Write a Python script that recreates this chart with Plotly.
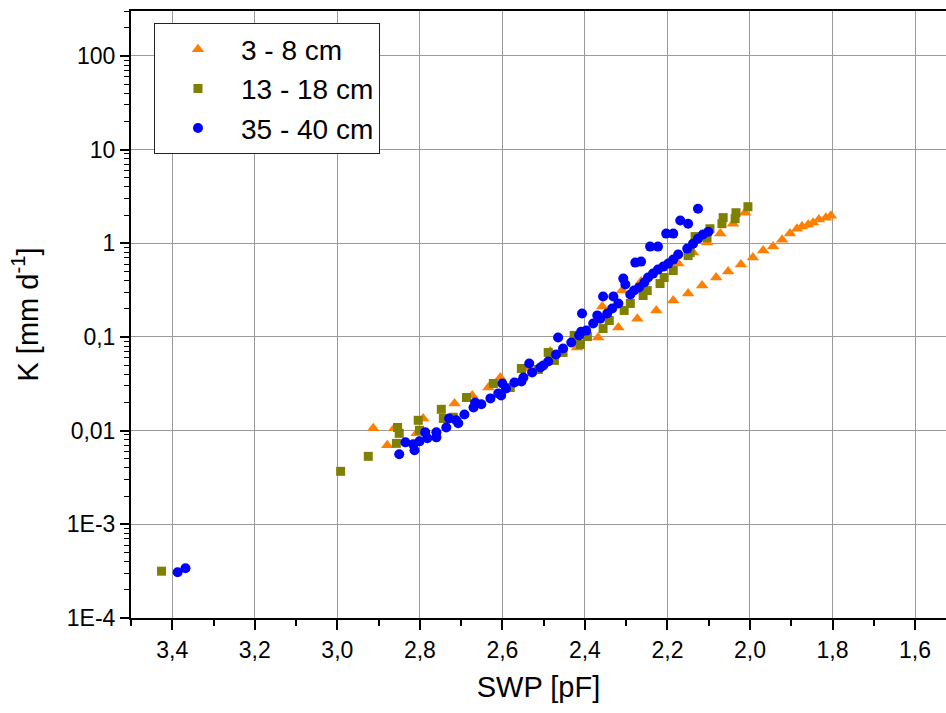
import plotly.graph_objects as go

# ---- data ----
swp_3_8 = [2.913, 2.862, 2.879, 2.808, 2.792, 2.716, 2.673, 2.634, 2.605, 2.540,
           2.484, 2.419, 2.368, 2.358, 2.319, 2.310, 2.273, 2.264, 2.227, 2.186,
           2.174, 2.150, 2.138, 2.116, 2.104, 2.082, 2.072, 2.053, 2.041, 2.022,
           2.012, 1.993, 1.968, 1.944, 1.922, 1.903, 1.886, 1.874, 1.859, 1.847,
           1.833, 1.816, 1.804]
k_3_8 = [0.0106, 0.0106, 0.00697, 0.00936, 0.0135, 0.0195, 0.0238, 0.0289, 0.0370, 0.0461,
         0.0700, 0.0773, 0.0988, 0.211, 0.126, 0.313, 0.157, 0.390, 0.192, 0.245,
         0.607, 0.291, 0.796, 0.354, 1.02, 0.431, 1.27, 0.499, 1.62, 0.593,
         2.12, 0.704, 0.836, 0.922, 1.09, 1.27, 1.43, 1.51, 1.58, 1.66,
         1.79, 1.88, 1.97]

swp_13_18 = [3.426, 2.992, 2.925, 2.854, 2.850, 2.857, 2.804, 2.801, 2.748, 2.743,
             2.719, 2.687, 2.622, 2.581, 2.554, 2.513, 2.489, 2.474, 2.453, 2.426,
             2.411, 2.394, 2.356, 2.341, 2.305, 2.290, 2.259, 2.249, 2.218, 2.208,
             2.186, 2.150, 2.145, 2.133, 2.104, 2.097, 2.068, 2.065, 2.036, 2.034,
             2.005]
k_13_18 = [0.000316, 0.00368, 0.00532, 0.0108, 0.00936, 0.00732, 0.0129, 0.0101, 0.0169, 0.0135,
           0.0139, 0.0226, 0.0319, 0.0289, 0.0461, 0.0450, 0.0684, 0.0562, 0.0684, 0.104,
           0.0832, 0.101, 0.123, 0.150, 0.192, 0.228, 0.277, 0.313, 0.372, 0.431,
           0.512, 0.739, 0.796, 1.18, 1.15, 1.43, 1.62, 1.88, 1.83, 2.12,
           2.46]

swp_35_40 = [3.387, 3.368, 2.850, 2.835, 2.816, 2.813, 2.801, 2.787, 2.782, 2.760,
             2.760, 2.736, 2.729, 2.712, 2.707, 2.692, 2.670, 2.666, 2.651, 2.629,
             2.610, 2.603, 2.600, 2.591, 2.571, 2.554, 2.549, 2.535, 2.528, 2.508,
             2.501, 2.489, 2.470, 2.465, 2.453, 2.433, 2.414, 2.409, 2.407, 2.397,
             2.380, 2.370, 2.363, 2.356, 2.346, 2.334, 2.331, 2.319, 2.307, 2.302,
             2.290, 2.281, 2.278, 2.269, 2.264, 2.256, 2.247, 2.242, 2.235, 2.223,
             2.223, 2.210, 2.203, 2.198, 2.186, 2.186, 2.174, 2.169, 2.152, 2.150,
             2.138, 2.126, 2.126, 2.114, 2.101]
k_35_40 = [0.000308, 0.000340, 0.00559, 0.00750, 0.00714, 0.00617, 0.00769, 0.00959, 0.00828, 0.00959,
           0.00848, 0.0108, 0.0135, 0.0129, 0.0120, 0.0149, 0.0177, 0.0200, 0.0191, 0.0221,
           0.0250, 0.0238, 0.0319, 0.0282, 0.0327, 0.0335, 0.0370, 0.0522, 0.0418, 0.0473,
           0.0497, 0.0548, 0.0651, 0.0988, 0.0754, 0.0874, 0.104, 0.114, 0.178, 0.117,
           0.139, 0.170, 0.157, 0.270, 0.178, 0.201, 0.270, 0.228, 0.420, 0.363,
           0.284, 0.313, 0.622, 0.337, 0.638, 0.381, 0.431, 0.922, 0.475, 0.922,
           0.524, 0.564, 1.27, 0.607, 1.27, 0.670, 0.758, 1.75, 0.878, 1.62,
           0.992, 1.12, 2.34, 1.24, 1.33]

series_names = ["3 - 8 cm", "13 - 18 cm", "35 - 40 cm"]

x_tickvals = [3.4, 3.2, 3.0, 2.8, 2.6, 2.4, 2.2, 2.0, 1.8, 1.6]
x_ticktext = ["3,4", "3,2", "3,0", "2,8", "2,6", "2,4", "2,2", "2,0", "1,8", "1,6"]
y_tickvals = [1e-4, 1e-3, 1e-2, 1e-1, 1, 10, 100]
y_ticktext = ["1E-4", "1E-3", "0,01", "0,1", "1", "10", "100"]

# ---- figure ----
FONT = "Liberation Sans, Arial, sans-serif"
fig = go.Figure()
styles = [
    (swp_3_8, k_3_8, "triangle-up", "#FF8000", 11),
    (swp_13_18, k_13_18, "square", "#808000", 9),
    (swp_35_40, k_35_40, "circle", "#0000FF", 10),
]
for i, (xs, ys, sym, col, sz) in enumerate(styles):
    fig.add_trace(go.Scatter(
        x=xs, y=ys, mode="markers", name=series_names[i],
        marker=dict(symbol=sym, color=col, size=sz, line=dict(width=0)),
    ))

minor_y = [m * 10 ** e for e in range(-4, 3) for m in range(2, 10)]

fig.update_layout(
    width=946, height=713,
    margin=dict(l=131, r=0, t=11, b=95),
    paper_bgcolor="white", plot_bgcolor="white",
    font=dict(family=FONT, color="black"),
    showlegend=True,
    legend=dict(
        x=0.0282, y=0.8716, xanchor="left", yanchor="middle",
        bgcolor="white", bordercolor="#222222", borderwidth=1,
        font=dict(size=28, family=FONT, color="black"),
        itemwidth=76, traceorder="normal",
    ),
    xaxis=dict(
        range=[3.5, 1.525], autorange=False,
        tickmode="array", tickvals=x_tickvals, ticktext=x_ticktext,
        ticks="outside", ticklen=10, tickwidth=2, tickcolor="black",
        showline=True, linewidth=2, linecolor="black", mirror=True,
        showgrid=True, gridcolor="#9a9a9a", gridwidth=1,
        zeroline=False,
        tickfont=dict(size=23, family=FONT),
        minor=dict(tickmode="array", tickvals=[3.5, 3.3, 3.1, 2.9, 2.7, 2.5, 2.3, 2.1, 1.9, 1.7],
                   ticks="outside", ticklen=6, tickwidth=2, tickcolor="black", showgrid=False),
        title=dict(text="SWP [pF]", font=dict(size=29, family=FONT), standoff=15),
    ),
    yaxis=dict(
        type="log", range=[-4, 2.48], autorange=False,
        tickmode="array", tickvals=y_tickvals, ticktext=y_ticktext,
        ticks="outside", ticklen=9, tickwidth=2, tickcolor="black",
        showline=True, linewidth=2, linecolor="black", mirror=False,
        showgrid=True, gridcolor="#9a9a9a", gridwidth=1,
        zeroline=False,
        tickfont=dict(size=23, family=FONT),
        minor=dict(tickmode="array", tickvals=minor_y,
                   ticks="outside", ticklen=5, tickwidth=1, tickcolor="black", showgrid=False),
        title=dict(text="K [mm d<sup>-1</sup>]", font=dict(size=29, family=FONT), standoff=20),
    ),
)

fig.write_html("out.html")
